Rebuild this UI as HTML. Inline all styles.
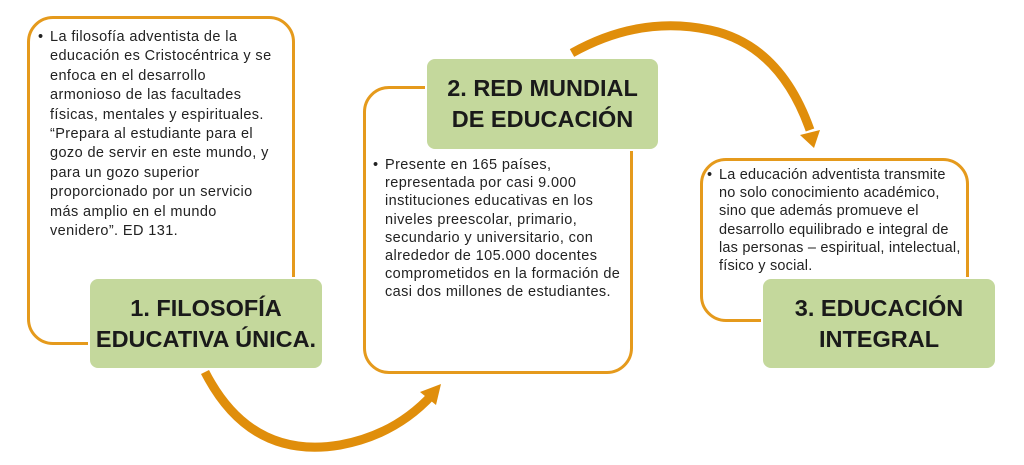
<!DOCTYPE html>
<html><head><meta charset="utf-8"><style>
body{margin:0;width:1024px;height:465px;background:#fff;position:relative;overflow:hidden;font-family:"Liberation Sans",sans-serif;}
.ob{position:absolute;border:3px solid #e59a1c;border-radius:26px;box-sizing:border-box;background:#fff;}
.gb{position:absolute;background:#c4d89c;border-radius:10px;border:2px solid #fff;box-sizing:border-box;display:flex;align-items:center;justify-content:center;text-align:center;font-weight:bold;font-size:23.5px;line-height:31px;color:#1a1a1a;}
.t{position:absolute;font-size:14.5px;color:#222;white-space:nowrap;letter-spacing:0.4px;}
.t:before{content:"•";position:absolute;left:-12px;}
svg{position:absolute;left:0;top:0;}
</style></head><body>
<svg width="1024" height="465">
<path d="M205 372 Q250 460 340 445 Q395 435 432 395" fill="none" stroke="#e08e0b" stroke-width="9"/>
<polygon points="441,384 420,392 436,405" fill="#e08e0b"/>
<path d="M572 53 Q640 15 710 30 Q780 45 810 130" fill="none" stroke="#e08e0b" stroke-width="9"/>
<polygon points="814,148 800,135 820,130" fill="#e08e0b"/>
</svg>
<div class="ob" style="left:27px;top:16px;width:268px;height:329px"></div>
<div class="ob" style="left:363px;top:86px;width:270px;height:288px"></div>
<div class="ob" style="left:700px;top:158px;width:269px;height:164px"></div>
<div class="t" style="left:50px;top:28px;line-height:19.4px">La filosofía adventista de la<br>educación es Cristocéntrica y se<br>enfoca en el desarrollo<br>armonioso de las facultades<br>físicas, mentales y espirituales.<br>“Prepara al estudiante para el<br>gozo de servir en este mundo, y<br>para un gozo superior<br>proporcionado por un servicio<br>más amplio en el mundo<br>venidero”. ED 131.</div>
<div class="t" style="left:385px;top:156px;line-height:18.2px">Presente en 165 países,<br>representada por casi 9.000<br>instituciones educativas en los<br>niveles preescolar, primario,<br>secundario y universitario, con<br>alrededor de 105.000 docentes<br>comprometidos en la formación de<br>casi dos millones de estudiantes.</div>
<div class="t" style="left:719px;top:166px;line-height:18.2px;letter-spacing:0.2px">La educación adventista transmite<br>no solo conocimiento académico,<br>sino que además promueve el<br>desarrollo equilibrado e integral de<br>las personas – espiritual, intelectual,<br>físico y social.</div>
<div class="gb" style="left:88px;top:277px;width:236px;height:93px">1. FILOSOFÍA<br>EDUCATIVA ÚNICA.</div>
<div class="gb" style="left:425px;top:57px;width:235px;height:94px">2. RED MUNDIAL<br>DE EDUCACIÓN</div>
<div class="gb" style="left:761px;top:277px;width:236px;height:93px">3. EDUCACIÓN<br>INTEGRAL</div>
</body></html>
